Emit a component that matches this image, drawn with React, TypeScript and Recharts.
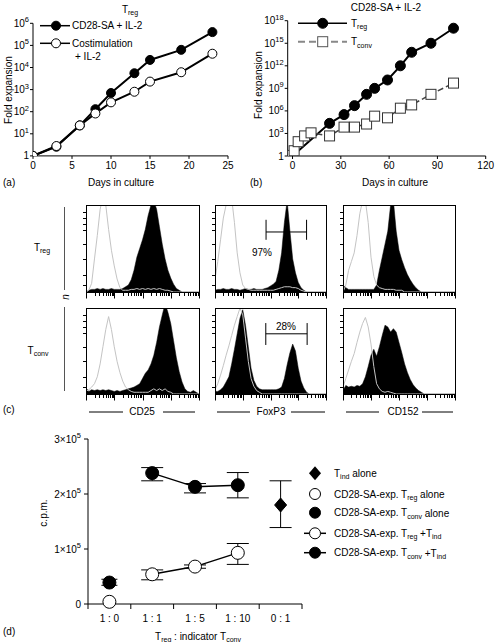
import React from 'react';
import { LineChart, Line, XAxis, YAxis, ComposedChart, Area, ReferenceLine, ErrorBar } from 'recharts';

const FONT = '"Liberation Sans", Arial, Helvetica, sans-serif';

// ---------- Panel (a) ----------
const aFilledDays = [0, 3, 6, 8, 10, 13, 15, 19, 23];
const aFilledFold = [1, 2.6, 24, 130, 700, 5500, 22000, 63000, 400000];
const aOpenDays = [0, 3, 6, 8, 10, 13, 15, 19, 23];
const aOpenFold = [1, 2.8, 24, 83, 265, 800, 2300, 6100, 42000];
const aXTicks = [0, 5, 10, 15, 20, 25];
const aYTicks = [1, 10, 100, 1000, 10000, 100000, 1000000];

// ---------- Panel (b) ----------
const bTregDays = [0, 23, 32, 38.5, 46, 51, 59, 67, 74, 86, 100];
const bTregFold = [1, 2.2e4, 3.2e5, 5e6, 1.6e8, 1e9, 1.3e10, 1e12, 6.3e13, 1e15, 1e17];
const bTconvDays = [0, 1, 3.5, 7.5, 11.5, 23, 32, 38.5, 46, 51, 59, 67, 74, 86, 100];
const bTconvFold = [1.2, 5, 80, 470, 1200, 470, 7000, 7000, 1.8e4, 2e5, 1.2e5, 2.3e6, 6.3e6, 1.6e8, 5e9];
const bXTicks = [0, 30, 60, 90, 120];
const bYTicks = [1, 1e3, 1e6, 1e9, 1e12, 1e15, 1e18];

// ---------- Panel (c) histograms (bins in log decades) ----------
const histBins = [0, 0.1, 0.2, 0.3, 0.4, 0.5, 0.6, 0.7, 0.8, 0.9, 1.0, 1.1, 1.2, 1.3, 1.4, 1.5, 1.6, 1.7, 1.8, 1.9, 2.0,
  2.1, 2.2, 2.3, 2.4, 2.5, 2.6, 2.7, 2.8, 2.9, 3.0, 3.1, 3.2, 3.3, 3.4, 3.5, 3.6, 3.7, 3.8, 3.9, 4.0];
const cd25TregGray = [0, 2, 10, 38, 65, 95, 110, 100, 72, 48, 30, 15, 5, 2, 2, 2, 3, 3, 4, 3, 4, 3, 4, 3, 4, 3, 4, 3, 2, 2, 1, 0, 0, 0, 0, 0, 0, 0, 0, 0, 0];
const cd25TregBlack = [0, 2, 3, 3, 4, 3, 4, 3, 3, 4, 3, 3, 3, 4, 6, 8, 14, 25, 40, 50, 60, 72, 88, 100, 105, 95, 75, 55, 38, 25, 16, 9, 4, 2, 0, 0, 0, 0, 0, 0, 0];
const foxTregGray = [15, 35, 60, 85, 100, 108, 108, 80, 45, 22, 8, 4, 3, 2, 2, 2, 2, 2, 2, 2, 2, 2, 3, 4, 5, 6, 6, 6, 5, 5, 4, 2, 1, 0, 0, 0, 0, 0, 0, 0, 0];
const foxTregBlack = [2, 3, 3, 4, 3, 3, 4, 3, 3, 2, 3, 4, 3, 3, 4, 3, 3, 3, 4, 5, 7, 9, 12, 25, 45, 80, 105, 70, 38, 22, 11, 5, 2, 0, 0, 0, 0, 0, 0, 0, 0];
const cd152TregGray = [0, 8, 25, 35, 45, 65, 90, 105, 105, 80, 40, 18, 8, 5, 4, 3, 3, 3, 3, 2, 2, 2, 0, 0, 0, 0, 0, 0, 0, 0, 0, 0, 0, 0, 0, 0, 0, 0, 0, 0, 0];
const cd152TregBlack = [8, 5, 3, 3, 3, 3, 3, 3, 3, 3, 3, 3, 8, 25, 40, 55, 70, 100, 105, 70, 48, 37, 28, 20, 14, 9, 5, 2, 0, 0, 0, 0, 0, 0, 0, 0, 0, 0, 0, 0, 0];
const cd25TconvGray = [3, 5, 8, 12, 20, 35, 55, 75, 90, 75, 55, 38, 25, 15, 8, 5, 3, 2, 2, 2, 2, 2, 2, 4, 6, 4, 6, 4, 6, 3, 2, 0, 0, 0, 0, 0, 0, 0, 0, 0, 0];
const cd25TconvBlack = [7, 3, 5, 4, 5, 4, 5, 4, 5, 4, 3, 4, 3, 4, 5, 6, 7, 8, 10, 12, 18, 24, 28, 35, 45, 60, 78, 92, 105, 95, 82, 62, 42, 26, 14, 6, 3, 2, 4, 2, 0];
const foxTconvGray = [5, 12, 22, 33, 45, 56, 68, 80, 90, 100, 92, 65, 38, 18, 9, 4, 2, 0, 0, 0, 0, 0, 0, 0, 0, 0, 0, 0, 0, 0, 0, 0, 0, 0, 0, 0, 0, 0, 0, 0, 0];
const foxTconvBlack = [3, 3, 5, 8, 14, 20, 35, 52, 70, 88, 98, 80, 55, 30, 16, 9, 6, 5, 5, 5, 5, 5, 5, 6, 8, 18, 34, 48, 58, 50, 30, 15, 7, 2, 0, 0, 0, 0, 0, 0, 0];
const cd152TconvGray = [8, 18, 28, 38, 47, 60, 72, 82, 89, 78, 58, 32, 12, 6, 3, 2, 3, 2, 1, 0, 0, 0, 0, 0, 0, 0, 0, 0, 0, 0, 0, 0, 0, 0, 0, 0, 0, 0, 0, 0, 0];
const cd152TconvBlack = [4, 10, 8, 9, 8, 10, 9, 12, 20, 32, 45, 52, 44, 55, 68, 80, 78, 72, 76, 72, 60, 48, 35, 25, 17, 11, 7, 4, 2, 0, 0, 0, 0, 0, 0, 0, 0, 0, 0, 0, 0];
const hYTicks = [8, 20, 38, 55, 71, 78, 85, 92];
const gateTreg = { x1: 1.84, x2: 3.3, y: 69, yTop: 83, yBot: 60 };
const gateTconv = { x1: 1.83, x2: 3.32, y: 70, yTop: 82.5, yBot: 57 };

// ---------- Panel (d) ----------
const dCats = ['1 : 0', '1 : 1', '1 : 5', '1 : 10', '0 : 1'];
const dTindAlone = [null, null, null, null, 180000];
const dTindAloneErr = [null, null, null, null, [41000, 44000]];
const dTregAlone = [4000, null, null, null, null];
const dTconvAlone = [39000, null, null, null, null];
const dTconvAloneErr = [[5000, 6000], null, null, null, null];
const dTregTind = [null, 54000, 68000, 93000, null];
const dTregTindErr = [null, [10000, 8000], [3000, 3000], [21000, 17000], null];
const dTconvTind = [null, 238000, 213000, 216000, null];
const dTconvTindErr = [null, [14000, 10000], [11000, 6000], [23000, 23000], null];
const dYTicks = [0, 100000, 200000, 300000];

// ---------- built tables ----------
const aFilled = aFilledDays.map((d, i) => ({ day: d, fold: aFilledFold[i] }));
const aOpen = aOpenDays.map((d, i) => ({ day: d, fold: aOpenFold[i] }));
const bTreg = bTregDays.map((d, i) => ({ day: d, fold: bTregFold[i] }));
const bTconv = bTconvDays.map((d, i) => ({ day: d, fold: bTconvFold[i] }));
const dData = dCats.map((c, i) => ({
  cat: c,
  tindAlone: dTindAlone[i], tindAloneErr: dTindAloneErr[i],
  tregAlone: dTregAlone[i],
  tconvAlone: dTconvAlone[i], tconvAloneErr: dTconvAloneErr[i],
  tregTind: dTregTind[i], tregTindErr: dTregTindErr[i],
  tconvTind: dTconvTind[i], tconvTindErr: dTconvTindErr[i],
}));
const logTicks: number[] = [];
for (let d = 0; d < 4; d++) for (let m = 1; m < 10; m++) logTicks.push(d + Math.log10(m));
logTicks.push(4);

// ---------- tick renderers ----------
const PowTick = (props: any) => {
  const { x, y, payload } = props;
  const e = Math.round(Math.log10(payload.value));
  return (
    <text x={x} y={y} textAnchor="end" dominantBaseline="central" fontSize={10} fontFamily={FONT} fill="#000">
      {e === 0 ? '1' : <>10<tspan dy={-4} fontSize={7.5}>{e}</tspan></>}
    </text>
  );
};

const D_LEFT = 88, D_RIGHT = 302;
const CatTick = (props: any) => {
  const { x, y, payload, index } = props;
  const bw = (D_RIGHT - D_LEFT) / dCats.length;
  return (
    <g>
      <line x1={x - bw / 2} x2={x - bw / 2} y1={y} y2={y + 5} stroke="#000" />
      {index === dCats.length - 1 && <line x1={x + bw / 2} x2={x + bw / 2} y1={y} y2={y + 5} stroke="#000" />}
      <text x={x} y={y + 14} textAnchor="middle" dominantBaseline="central" fontSize={10} fontFamily={FONT} fill="#000">{payload.value}</text>
    </g>
  );
};

const SciTick = (props: any) => {
  const { x, y, payload } = props;
  const v = payload.value;
  return (
    <text x={x} y={y} textAnchor="end" dominantBaseline="central" fontSize={10} fontFamily={FONT} fill="#000">
      {v === 0 ? '0' : <>{v / 100000}×10<tspan dy={-4} fontSize={7.5}>5</tspan></>}
    </text>
  );
};

const squareDot = (p: any) => {
  if (p.cx == null || p.cy == null || isNaN(p.cx) || isNaN(p.cy)) return <g key={p.index} />;
  return <rect key={p.index} x={p.cx - 5} y={p.cy - 5} width={10} height={10} fill="#fff" stroke="#333" strokeWidth={1} />;
};

const diamondDot = (p: any) => {
  if (p.cx == null || p.cy == null || isNaN(p.cx) || isNaN(p.cy) || p.value == null) return <g key={p.index} />;
  const { cx, cy } = p;
  return <path key={p.index} d={`M${cx},${cy - 7} L${cx + 6},${cy} L${cx},${cy + 7} L${cx - 6},${cy} Z`} fill="#000" stroke="#000" />;
};

// ---------- Histogram panel ----------
function Histo({ left, top, w, h, gray, black, gate }: any) {
  const data = histBins.map((x, i) => ({ x, g: gray[i], b: black[i] }));
  const ml = 6, mr = 4, mt = 4, mb = 10;
  return (
    <div style={{ position: 'absolute', left: left - ml, top: top - mt }}>
      <ComposedChart width={w + ml + mr} height={h + mt + mb} data={data} margin={{ top: mt, right: mr, bottom: mb, left: ml }}>
        <XAxis dataKey="x" type="number" domain={[0, 4]} hide allowDataOverflow />
        <YAxis type="number" domain={[0, 100]} hide allowDataOverflow />
        <Area dataKey="b" type="linear" fill="#000" stroke="#000" strokeWidth={0.5} fillOpacity={1} isAnimationActive={false} dot={false} activeDot={false} />
        <Line dataKey="g" type="linear" stroke="#c4c4c4" strokeWidth={1} dot={false} activeDot={false} isAnimationActive={false} />
        {gate && <ReferenceLine segment={[{ x: gate.x1, y: gate.y }, { x: gate.x2, y: gate.y }]} stroke="#000" ifOverflow="visible" />}
        {gate && <ReferenceLine segment={[{ x: gate.x1, y: gate.yTop }, { x: gate.x1, y: gate.yBot }]} stroke="#000" ifOverflow="visible" />}
        {gate && <ReferenceLine segment={[{ x: gate.x2, y: gate.yTop }, { x: gate.x2, y: gate.yBot }]} stroke="#000" ifOverflow="visible" />}
      </ComposedChart>
    </div>
  );
}

// axis frame for a histogram (decoration drawn in the overlay)
function HistoFrame({ left, top, w, h }: any) {
  const bottom = Math.round(top + h) + 0.5;
  const l = Math.round(left) + 0.5;
  return (
    <g>
      <rect x={l} y={Math.round(top) + 0.5} width={Math.round(w)} height={Math.round(h)} fill="none" stroke="#000" strokeWidth={1} />
      {logTicks.map((t, i) => {
        const major = Math.abs(t - Math.round(t)) < 1e-6;
        const x = Math.round(left + (w * t) / 4) + 0.5;
        return <line key={`x${i}`} x1={x} x2={x} y1={bottom} y2={bottom + (major ? 6 : 3.5)} stroke="#000" strokeWidth={1} />;
      })}
      {hYTicks.map((t, i) => {
        const y = Math.round(top + h - (h * t) / 100) + 0.5;
        return <line key={`y${i}`} x1={l - 3.5} x2={l} y1={y} y2={y} stroke="#000" strokeWidth={1} />;
      })}
    </g>
  );
}

const tickStyle = { fontSize: 10, fill: '#000', fontFamily: FONT };

const S = (s: string) => <tspan dy={3} fontSize={7}>{s}</tspan>;

const cols = [[86, 199], [215, 326], [343, 455]];
const rows = [[205, 292], [308, 394]];

export default function App() {
  const grays = [[cd25TregGray, foxTregGray, cd152TregGray], [cd25TconvGray, foxTconvGray, cd152TconvGray]];
  const blacks = [[cd25TregBlack, foxTregBlack, cd152TregBlack], [cd25TconvBlack, foxTconvBlack, cd152TconvBlack]];
  const gates = [[null, gateTreg, null], [null, gateTconv, null]];
  return (
    <div style={{ position: 'absolute', left: 0, top: 0, width: 495, height: 642, background: '#fff', fontFamily: FONT }}>
      {/* Panel a */}
      <div style={{ position: 'absolute', left: 0, top: 0 }}>
        <LineChart width={250} height={200} margin={{ top: 23.3, right: 22, bottom: 24.1, left: 0 }}>
          <XAxis dataKey="day" type="number" domain={[0, 25]} ticks={aXTicks} interval={0} height={20} tickSize={3} tickMargin={3}
            tick={tickStyle} axisLine={{ stroke: '#000' }} tickLine={{ stroke: '#000' }} allowDataOverflow />
          <YAxis type="number" scale="log" domain={[1, 1e6]} ticks={aYTicks} interval={0} width={33} tickSize={3} tickMargin={1}
            tick={PowTick} axisLine={{ stroke: '#000' }} tickLine={{ stroke: '#000' }} allowDataOverflow />
          <Line data={aFilled} dataKey="fold" stroke="#000" strokeWidth={2} dot={{ r: 4.5, fill: '#000', stroke: '#000', strokeWidth: 1 }} activeDot={false} isAnimationActive={false} />
          <Line data={aOpen} dataKey="fold" stroke="#000" strokeWidth={2} dot={{ r: 4.5, fill: '#fff', stroke: '#000', strokeWidth: 1 }} activeDot={false} isAnimationActive={false} />
        </LineChart>
      </div>
      {/* Panel b */}
      <div style={{ position: 'absolute', left: 245, top: 0 }}>
        <LineChart width={250} height={200} margin={{ top: 20.7, right: 9.3, bottom: 24, left: 0 }}>
          <XAxis dataKey="day" type="number" domain={[-3, 120]} ticks={bXTicks} interval={0} height={20} tickSize={3} tickMargin={3}
            tick={tickStyle} axisLine={{ stroke: '#000' }} tickLine={{ stroke: '#000' }} allowDataOverflow />
          <YAxis type="number" scale="log" domain={[1, 1e18]} ticks={bYTicks} interval={0} width={42.7} tickSize={3} tickMargin={1}
            tick={PowTick} axisLine={{ stroke: '#000' }} tickLine={{ stroke: '#000' }} allowDataOverflow />
          <Line data={bTreg} dataKey="fold" stroke="#000" strokeWidth={2} dot={{ r: 5, fill: '#000', stroke: '#000', strokeWidth: 1 }} activeDot={false} isAnimationActive={false} />
          <Line data={bTconv} dataKey="fold" stroke="#444" strokeWidth={1.5} strokeDasharray="6 3" dot={squareDot} activeDot={false} isAnimationActive={false} />
        </LineChart>
      </div>
      {/* Panel c */}
      {rows.map((r, ri) => cols.map((c, ci) => (
        <Histo key={`${ri}-${ci}`} left={c[0]} top={r[0]} w={c[1] - c[0]} h={r[1] - r[0]}
          gray={grays[ri][ci]} black={blacks[ri][ci]} gate={gates[ri][ci]} />
      )))}
      {/* Panel d */}
      <div style={{ position: 'absolute', left: 0, top: 420 }}>
        <ComposedChart width={310} height={215} data={dData} margin={{ top: 19, right: 8, bottom: 11, left: 0 }}>
          <XAxis dataKey="cat" type="category" scale="band" interval={0} height={20} tickSize={0} tickMargin={0} tickLine={false}
            tick={CatTick} axisLine={{ stroke: '#000' }} />
          <YAxis type="number" domain={[0, 300000]} ticks={dYTicks} interval={0} width={88} tickSize={4} tickMargin={3}
            tick={SciTick} axisLine={{ stroke: '#000' }} tickLine={{ stroke: '#000' }} />
          <Line dataKey="tregTind" stroke="#000" strokeWidth={1.5} dot={{ r: 6.5, fill: '#fff', stroke: '#000', strokeWidth: 1 }} activeDot={false} isAnimationActive={false}>
            <ErrorBar dataKey="tregTindErr" width={11} stroke="#000" strokeWidth={1} direction="y" />
          </Line>
          <Line dataKey="tconvTind" stroke="#000" strokeWidth={1.5} dot={{ r: 6.5, fill: '#000', stroke: '#000', strokeWidth: 1 }} activeDot={false} isAnimationActive={false}>
            <ErrorBar dataKey="tconvTindErr" width={11} stroke="#000" strokeWidth={1} direction="y" />
          </Line>
          <Line dataKey="tconvAlone" stroke="none" dot={{ r: 6.5, fill: '#000', stroke: '#000', strokeWidth: 1 }} activeDot={false} isAnimationActive={false}>
            <ErrorBar dataKey="tconvAloneErr" width={8} stroke="#000" strokeWidth={1} direction="y" />
          </Line>
          <Line dataKey="tregAlone" stroke="none" dot={{ r: 6.5, fill: '#fff', stroke: '#000', strokeWidth: 1 }} activeDot={false} isAnimationActive={false} />
          <Line dataKey="tindAlone" stroke="none" dot={diamondDot} activeDot={false} isAnimationActive={false}>
            <ErrorBar dataKey="tindAloneErr" width={11} stroke="#000" strokeWidth={1} direction="y" />
          </Line>
        </ComposedChart>
      </div>
      {/* Overlay texts */}
      <svg width={495} height={642} style={{ position: 'absolute', left: 0, top: 0, pointerEvents: 'none' }} fontFamily={FONT} fontSize={10} fill="#000">
        {rows.map((r, ri) => cols.map((c, ci) => (
          <HistoFrame key={`f${ri}-${ci}`} left={c[0]} top={r[0]} w={c[1] - c[0]} h={r[1] - r[0]} />
        )))}
        {/* a */}
        <text x={130} y={9} textAnchor="middle" dominantBaseline="central">T{S('reg')}</text>
        <line x1={40} x2={70} y1={25.7} y2={25.7} stroke="#000" strokeWidth={1.5} />
        <circle cx={56} cy={25.7} r={4.5} fill="#000" stroke="#000" />
        <text x={72} y={25.7} dominantBaseline="central">CD28-SA + IL-2</text>
        <line x1={40} x2={70} y1={43.3} y2={43.3} stroke="#000" strokeWidth={1.5} />
        <circle cx={56} cy={43.3} r={4.5} fill="#fff" stroke="#000" />
        <text x={72} y={43.3} dominantBaseline="central">Costimulation</text>
        <text x={75} y={56.7} dominantBaseline="central">+ IL-2</text>
        <text x={8} y={90} textAnchor="middle" dominantBaseline="central" transform="rotate(-90 8 90)">Fold expansion</text>
        <text x={121} y={182} textAnchor="middle" dominantBaseline="central">Days in culture</text>
        <text x={3} y={182} dominantBaseline="central">(a)</text>
        {/* b */}
        <text x={386} y={7} textAnchor="middle" dominantBaseline="central">CD28-SA + IL-2</text>
        <line x1={298} x2={347} y1={23.3} y2={23.3} stroke="#000" strokeWidth={1.5} />
        <circle cx={322.7} cy={23.3} r={5} fill="#000" stroke="#000" />
        <text x={351} y={23.3} dominantBaseline="central">T{S('reg')}</text>
        <line x1={298} x2={347} y1={41.7} y2={41.7} stroke="#888" strokeWidth={2} strokeDasharray="7 4" />
        <rect x={317.7} y={36.7} width={10} height={10} fill="#fff" stroke="#555" />
        <text x={351} y={41.7} dominantBaseline="central">T{S('conv')}</text>
        <text x={258} y={85} textAnchor="middle" dominantBaseline="central" transform="rotate(-90 258 85)">Fold expansion</text>
        <text x={395} y={182} textAnchor="middle" dominantBaseline="central">Days in culture</text>
        <text x={250} y={182} dominantBaseline="central">(b)</text>
        {/* c */}
        <text x={42} y={247} textAnchor="middle" dominantBaseline="central">T{S('reg')}</text>
        <text x={38} y={350} textAnchor="middle" dominantBaseline="central">T{S('conv')}</text>
        <line x1={64.5} x2={64.5} y1={207} y2={290} stroke="#555" />
        <line x1={64.5} x2={64.5} y1={307} y2={391} stroke="#555" />
        <text x={65} y={297} textAnchor="middle" dominantBaseline="central" fontStyle="italic" transform="rotate(-90 65 297)">n</text>
        <text x={262} y={252} textAnchor="middle" dominantBaseline="central">97%</text>
        <text x={286} y={326} textAnchor="middle" dominantBaseline="central">28%</text>
        <text x={3} y={409} dominantBaseline="central">(c)</text>
        <line x1={89} x2={123} y1={412} y2={412} stroke="#000" />
        <text x={142} y={411} textAnchor="middle" dominantBaseline="central">CD25</text>
        <line x1={163} x2={195} y1={412} y2={412} stroke="#000" />
        <line x1={217} x2={250} y1={412} y2={412} stroke="#000" />
        <text x={271} y={411} textAnchor="middle" dominantBaseline="central">FoxP3</text>
        <line x1={291} x2={325} y1={412} y2={412} stroke="#000" />
        <line x1={346} x2={379} y1={412} y2={412} stroke="#000" />
        <text x={403} y={411} textAnchor="middle" dominantBaseline="central">CD152</text>
        <line x1={422} x2={453} y1={412} y2={412} stroke="#000" />
        {/* d */}
        <text x={43} y={513} textAnchor="middle" dominantBaseline="central" transform="rotate(-90 43 513)">c.p.m.</text>
        <text x={198} y={636} textAnchor="middle" dominantBaseline="central">T{S('reg')}<tspan dy={-3}> : indicator T</tspan>{S('conv')}</text>
        <text x={3} y={631} dominantBaseline="central">(d)</text>
        <path d="M315,466.3 L321,473.3 L315,480.3 L309,473.3 Z" fill="#000" />
        <text x={334} y={473.3} dominantBaseline="central">T{S('ind')}<tspan dy={-3}> alone</tspan></text>
        <circle cx={315} cy={494} r={5.5} fill="#fff" stroke="#000" />
        <text x={334} y={494} dominantBaseline="central">CD28-SA-exp. T{S('reg')}<tspan dy={-3}>{'  alone'}</tspan></text>
        <circle cx={315} cy={512.7} r={5.5} fill="#000" stroke="#000" />
        <text x={334} y={512.7} dominantBaseline="central">CD28-SA-exp. T{S('conv')}<tspan dy={-3}>{'  alone'}</tspan></text>
        <line x1={304} x2={326} y1={533.3} y2={533.3} stroke="#000" strokeWidth={1.5} />
        <circle cx={315} cy={533.3} r={5.5} fill="#fff" stroke="#000" />
        <text x={334} y={533.3} dominantBaseline="central">CD28-SA-exp. T{S('reg')}<tspan dy={-3}> +T</tspan>{S('ind')}</text>
        <line x1={304} x2={326} y1={552.7} y2={552.7} stroke="#000" strokeWidth={1.5} />
        <circle cx={315} cy={552.7} r={5.5} fill="#000" stroke="#000" />
        <text x={334} y={552.7} dominantBaseline="central">CD28-SA-exp. T{S('conv')}<tspan dy={-3}> +T</tspan>{S('ind')}</text>
      </svg>
    </div>
  );
}
